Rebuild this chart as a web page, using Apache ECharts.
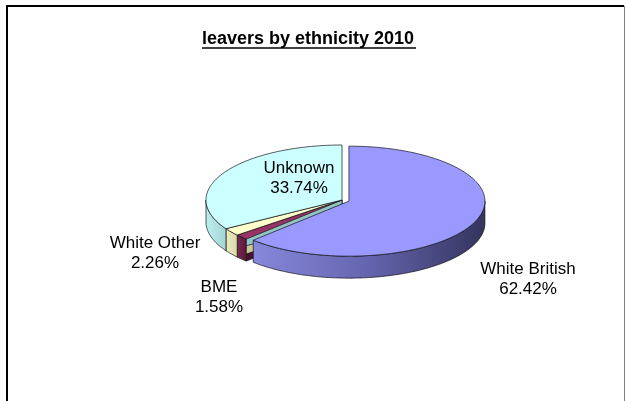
<!DOCTYPE html>
<html>
<head>
<meta charset="utf-8">
<script src="https://cdn.jsdelivr.net/npm/echarts@6/dist/echarts.min.js"></script>
<style>
  html, body { margin: 0; padding: 0; background: #fff; }
  #chart { width: 626px; height: 401px; }
</style>
</head>
<body>
<div id="chart"></div>
<script>
// Leavers by ethnicity, 2010 (share of total, %)
const categories = ['White British', 'BME', 'White Other', 'Unknown'];
const shares = [62.42, 1.58, 2.26, 33.74];

// Which slice is pulled out of the pie
const explodedSlices = ['White British'];

// 3D pie geometry (px)
const PIE = { cx: 342, cy: 200, rx: 136, ry: 55, depth: 22, explode: 0.055 };

// Slice colours: top face, rim gradient, cut face
const topColors = ['#9999ff', '#993366', '#ffffcc', '#ccffff'];
const rimColors = [
  ['#8888dc', '#6464ae', '#34345e'],
  ['#7a2a52', '#6a2046', '#5a183a'],
  ['#ecedc2', '#e2e2b4', '#d6d6a6'],
  ['#bdeeee', '#b0e2e2', '#a2d4d4']
];
const cutColors = ['#5a5aa0', '#4a1030', '#c8c898', '#92c4c4'];

// Label block centres (px)
const labelAnchors = [[528, 279], [219, 297.5], [155, 253.5], [299, 178.5]];

const LABEL_FONT = '17px "Liberation Sans", Arial, sans-serif';
const EDGE = '#111';

const total = shares.reduce((a, b) => a + b, 0);
const startAngles = [];
shares.reduce((acc, v) => { startAngles.push(acc / total * 360); return acc + v; }, 0);

function renderSlice(params, api) {
  const i = params.dataIndex;
  const v = api.value(0);
  const a0 = startAngles[i];
  const a1 = a0 + v / total * 360;
  const rad = d => d * Math.PI / 180;

  let cx = PIE.cx, cy = PIE.cy;
  if (explodedSlices.indexOf(categories[i]) >= 0) {
    const mid = rad((a0 + a1) / 2);
    cx += PIE.rx * PIE.explode * Math.sin(mid);
    cy -= PIE.ry * PIE.explode * Math.cos(mid);
  }
  // angle measured clockwise from 12 o'clock
  const pt = (deg, dy) => [cx + PIE.rx * Math.sin(rad(deg)), cy - PIE.ry * Math.cos(rad(deg)) + (dy || 0)];
  const arc = (from, to, dy) => {
    const n = Math.max(2, Math.ceil(Math.abs(to - from)));
    const pts = [];
    for (let k = 0; k <= n; k++) pts.push(pt(from + (to - from) * k / n, dy));
    return pts;
  };
  const d = PIE.depth;
  const children = [];

  // radial cut faces that turn towards the viewer
  const cutFace = a => {
    const p = pt(a);
    return {
      type: 'polygon', z2: 10,
      shape: { points: [[cx, cy], p, [p[0], p[1] + d], [cx, cy + d]] },
      style: { fill: cutColors[i], stroke: EDGE, lineWidth: 0.7 }
    };
  };
  if (Math.sin(rad(a0)) < -1e-6) children.push(cutFace(a0));
  if (Math.sin(rad(a1)) > 1e-6) children.push(cutFace(a1));

  // front rim
  const f0 = Math.max(a0, 90), f1 = Math.min(a1, 270);
  if (f1 > f0) {
    const pts = arc(f0, f1).concat(arc(f1, f0, d));
    const stops = rimColors[i].map((c, k, arr) => ({ offset: k / (arr.length - 1), color: c }));
    children.push({
      type: 'polygon', z2: 20,
      shape: { points: pts },
      style: {
        fill: { type: 'linear', x: 0, y: 0, x2: 1, y2: 0, colorStops: stops },
        stroke: EDGE, lineWidth: 0.7
      }
    });
  }

  // top face
  children.push({
    type: 'polygon', z2: 30,
    shape: { points: [[cx, cy]].concat(arc(a0, a1)) },
    style: { fill: topColors[i], stroke: EDGE, lineWidth: 0.7 }
  });

  // data label
  children.push({
    type: 'text', z2: 40,
    style: {
      text: categories[i] + '\n' + v.toFixed(2) + '%',
      x: labelAnchors[i][0], y: labelAnchors[i][1],
      align: 'center', verticalAlign: 'middle',
      font: LABEL_FONT, lineHeight: 20, fill: '#000'
    }
  });

  return { type: 'group', children: children };
}

const chart = echarts.init(document.getElementById('chart'), null, { renderer: 'canvas' });
chart.setOption({
  backgroundColor: '#ffffff',
  animation: false,
  graphic: [
    // frame
    { type: 'line', shape: { x1: 7, y1: 5, x2: 7, y2: 401 }, style: { stroke: '#000', lineWidth: 2 } },
    { type: 'line', shape: { x1: 6, y1: 6, x2: 624, y2: 6 }, style: { stroke: '#000', lineWidth: 2 } },
    { type: 'line', shape: { x1: 624.5, y1: 6, x2: 624.5, y2: 401 }, style: { stroke: '#808080', lineWidth: 1 } },
    // title with underline
    {
      type: 'text', left: 202, top: 30,
      style: { text: 'leavers by ethnicity 2010', font: 'bold 18px "Liberation Sans", Arial, sans-serif', fill: '#000' }
    },
    { type: 'line', shape: { x1: 202, y1: 48, x2: 416, y2: 48 }, style: { stroke: '#000', lineWidth: 1.5 } }
  ],
  series: [{
    type: 'custom',
    coordinateSystem: 'none',
    renderItem: renderSlice,
    data: shares
  }]
});
</script>
</body>
</html>
